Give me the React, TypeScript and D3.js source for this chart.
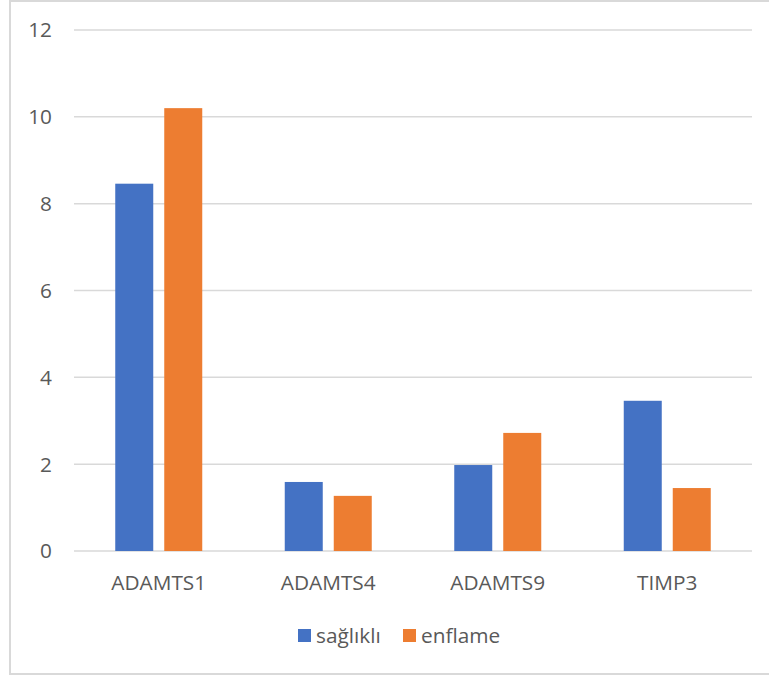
import React, { useEffect, useRef } from "react";
import * as d3 from "d3";

// Chart data
const categories = ["ADAMTS1", "ADAMTS4", "ADAMTS9", "TIMP3"];
const seriesNames = ["sağlıklı", "enflame"];
const saglikli = [8.46, 1.59, 1.98, 3.46];
const enflame = [10.2, 1.27, 2.72, 1.45];
const yTicks = [0, 2, 4, 6, 8, 10, 12];

const colors = ["#4472C4", "#ED7D31"];

export default function App() {
  const chartRef = useRef<SVGSVGElement>(null);

  useEffect(() => {
    const svg = d3.select(chartRef.current);
    svg.selectAll("*").remove();

    const width = 769;
    const left = 74;
    const right = 752;
    const top = 30;
    const bottom = 551;
    const font = "'Open Sans', 'Noto Sans', sans-serif";
    const fontSize = 20.8;
    const textColor = "#595959";

    // Outer frame
    svg
      .append("rect")
      .attr("x", 10)
      .attr("y", 1)
      .attr("width", width)
      .attr("height", 673)
      .attr("fill", "#fff")
      .attr("stroke", "#d9d9d9")
      .attr("stroke-width", 2);

    // Scales
    const x0 = d3.scaleBand<string>().domain(categories).range([left, right]);
    const groupWidth = 87;
    const x1 = d3
      .scaleBand<string>()
      .domain(seriesNames)
      .range([0, groupWidth])
      .paddingInner(0.2245);
    const y = d3.scaleLinear().domain([0, 12]).range([bottom, top]);

    // Gridlines
    svg
      .append("g")
      .selectAll("line")
      .data(yTicks)
      .join("line")
      .attr("x1", left)
      .attr("x2", right)
      .attr("y1", (d) => y(d))
      .attr("y2", (d) => y(d))
      .attr("stroke", "#d9d9d9")
      .attr("stroke-width", 1.5);

    // Y tick labels
    svg
      .append("g")
      .selectAll("text")
      .data(yTicks)
      .join("text")
      .attr("x", 52)
      .attr("y", (d) => y(d))
      .attr("dy", "0.36em")
      .attr("text-anchor", "end")
      .attr("font-family", font)
      .attr("font-size", fontSize)
      .attr("fill", textColor)
      .text((d) => d);

    // Bars
    const values = [saglikli, enflame];
    const offset = (x0.bandwidth() - groupWidth) / 2;
    const groups = svg
      .append("g")
      .selectAll("g")
      .data(categories)
      .join("g")
      .attr("transform", (c) => `translate(${(x0(c) ?? 0) + offset},0)`);

    groups
      .selectAll("rect")
      .data((c) =>
        seriesNames.map((s, j) => ({ s, v: values[j][categories.indexOf(c)], j }))
      )
      .join("rect")
      .attr("x", (d) => x1(d.s) ?? 0)
      .attr("y", (d) => y(d.v))
      .attr("width", x1.bandwidth())
      .attr("height", (d) => bottom - y(d.v))
      .attr("fill", (d) => colors[d.j]);

    // X labels
    svg
      .append("g")
      .selectAll("text")
      .data(categories)
      .join("text")
      .attr("x", (c) => (x0(c) ?? 0) + x0.bandwidth() / 2)
      .attr("y", 590)
      .attr("text-anchor", "middle")
      .attr("font-family", font)
      .attr("font-size", fontSize)
      .attr("fill", textColor)
      .text((c) => c);

    // Legend
    const legendX = [298, 403];
    const legend = svg
      .append("g")
      .selectAll("g")
      .data(seriesNames)
      .join("g")
      .attr("transform", (d, i) => `translate(${legendX[i]},629)`);
    legend
      .append("rect")
      .attr("width", 13)
      .attr("height", 13)
      .attr("fill", (d, i) => colors[i]);
    legend
      .append("text")
      .attr("x", 18)
      .attr("y", 6.5)
      .attr("dy", "0.36em")
      .attr("font-family", font)
      .attr("font-size", fontSize)
      .attr("fill", textColor)
      .text((d) => d);
  }, []);

  return (
    <svg
      ref={chartRef}
      width={769}
      height={677}
      style={{ position: "absolute", left: 0, top: 0, background: "#fff" }}
    ></svg>
  );
}
